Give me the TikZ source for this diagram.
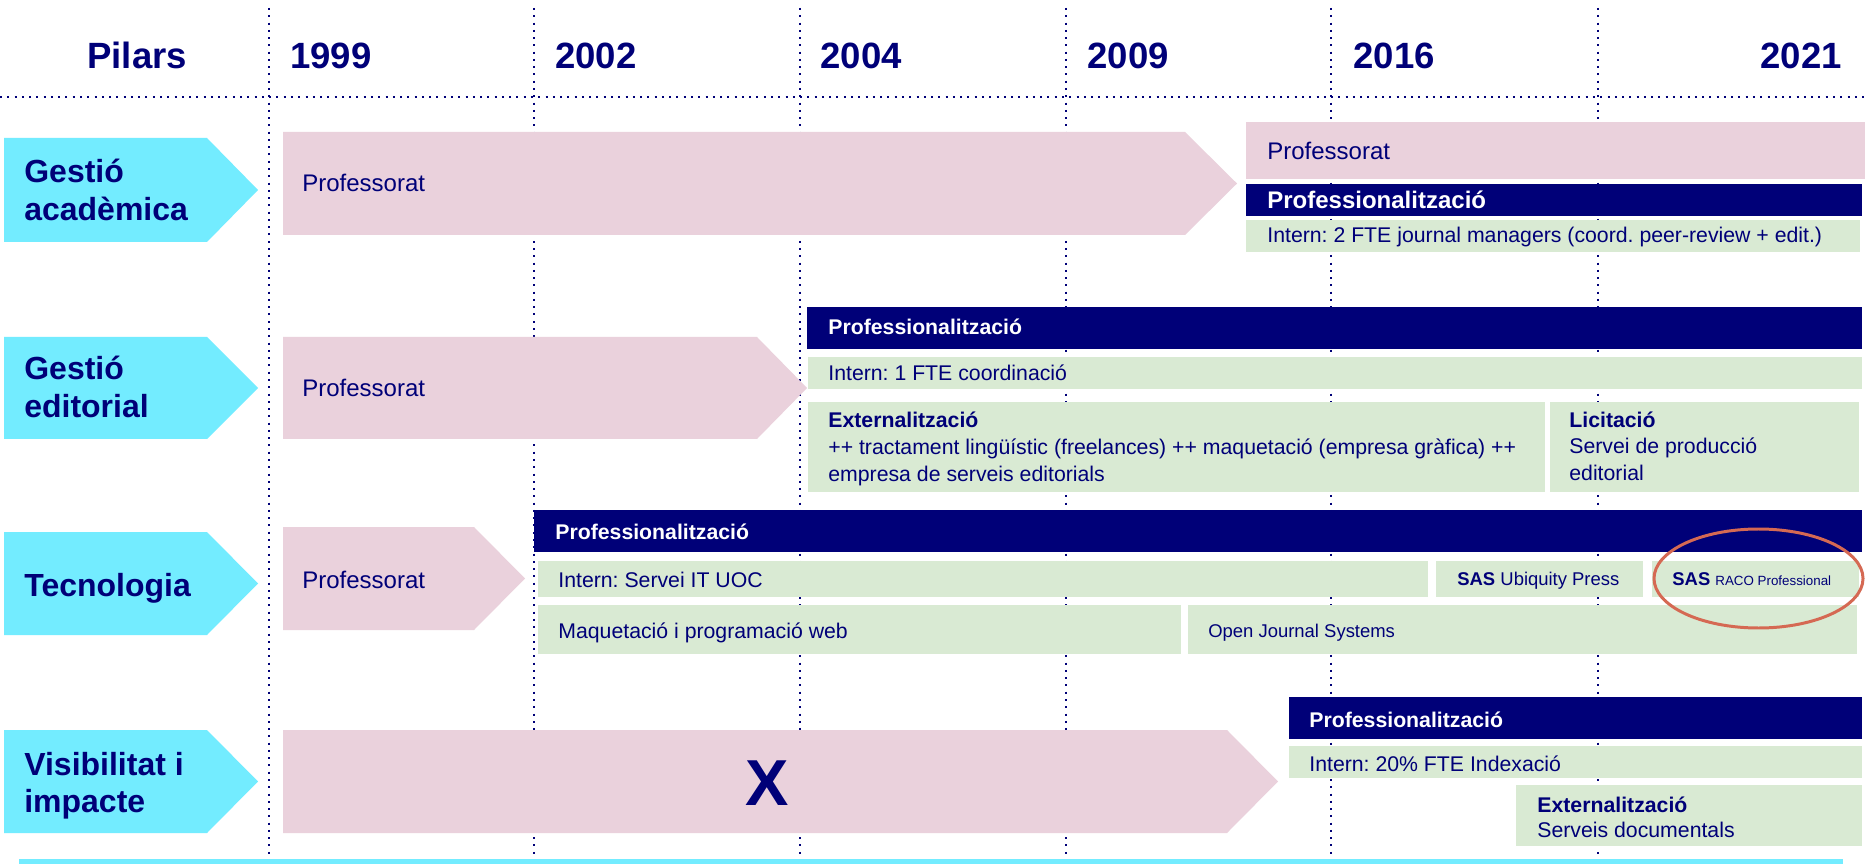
\documentclass[tikz,border=0pt]{standalone}
\usepackage{fontspec}
\setmainfont{Liberation Sans}
\frenchspacing
\definecolor{navyc}{RGB}{0,0,120}
\definecolor{cyanc}{RGB}{115,236,255}
\definecolor{pinkc}{RGB}{234,209,220}
\definecolor{greenc}{RGB}{217,234,211}
\definecolor{redc}{RGB}{213,105,83}
\begin{document}
\begin{tikzpicture}[x=0.02cm,y=-0.02cm,
  txt/.style={inner sep=0pt, anchor=base west, text=navyc},
  hdr/.style={txt, font=\bfseries\fontsize{20.8}{25}\selectfont},
  pil/.style={txt, font=\bfseries\fontsize{18.2}{22}\selectfont},
  big/.style={txt, font=\fontsize{13.66}{16}\selectfont},
  bigw/.style={txt, text=white, font=\bfseries\fontsize{13.66}{16}\selectfont},
  med/.style={txt, font=\fontsize{12.1}{14}\selectfont},
  medb/.style={txt, font=\bfseries\fontsize{12.1}{14}\selectfont},
  medw/.style={medb, text=white},
  sml/.style={txt, font=\fontsize{10.5}{12}\selectfont},
  dotline/.style={navyc, line width=1.14pt, dash pattern=on 1.14pt off 3pt},
  gbox/.style={fill=greenc},
  nbox/.style={fill=navyc},
  pbox/.style={fill=pinkc},
  cbox/.style={fill=cyanc}]
\useasboundingbox (0,0) rectangle (1865,864);
\fill[white] (0,0) rectangle (1865,864);

% grid
\foreach \gx in {269,534,800,1066,1331,1598}
  \draw[dotline] (\gx,8) -- (\gx,864);
\draw[dotline] (0,97) -- (1865,97);

% headers
\node[hdr] (hpil) at (87,69) {Pilars};
\node[hdr] (y1999) at (290,69) {1999};
\node[hdr] (y2002) at (555,69) {2002};
\node[hdr] (y2004) at (820,69) {2004};
\node[hdr] (y2009) at (1087,69) {2009};
\node[hdr] (y2016) at (1353,69) {2016};
\node[hdr, anchor=base east] (y2021) at (1842,69) {2021};

% pillar arrows
\foreach \ya/\yb in {138/242,337/439,532/635,730/833}
  \path[cbox] (4,\ya) -- (207,\ya) -- (258,{(\ya+\yb)/2}) -- (207,\yb) -- (4,\yb) -- cycle;
\node[pil] (p1a) at (24,183) {Gestió};
\node[pil] (p1b) at (24,221) {acadèmica};
\node[pil] (p2a) at (24,380) {Gestió};
\node[pil] (p2b) at (24,418) {editorial};
\node[pil] (p3) at (24,596) {Tecnologia};
\node[pil] (p4a) at (24,775) {Visibilitat i};
\node[pil] (p4b) at (24,812) {impacte};

% pink arrows
\path[pbox] (283,132) -- (1185,132) -- (1237,183.5) -- (1185,235) -- (283,235) -- cycle;
\path[pbox] (283,337) -- (757,337) -- (807,388) -- (757,439) -- (283,439) -- cycle;
\path[pbox] (283,527) -- (474,527) -- (525,578.5) -- (474,630) -- (283,630) -- cycle;
\path[pbox] (283,730) -- (1227,730) -- (1278,781.5) -- (1227,833) -- (283,833) -- cycle;
\path[pbox] (1246,122) rectangle (1865,179);

% navy bars
\path[nbox] (1246,184) rectangle (1862,216);
\path[nbox] (807,307) rectangle (1862,349);
\path[nbox] (534,510) rectangle (1862,552);
\path[nbox] (1289,697) rectangle (1862,739);

% green boxes
\path[gbox] (1246,220) rectangle (1860,252);
\path[gbox] (808,357) rectangle (1862,389);
\path[gbox] (808,402) rectangle (1545,492);
\path[gbox] (1550,402) rectangle (1859,492);
\path[gbox] (538,561) rectangle (1428,597);
\path[gbox] (1436,561) rectangle (1643,597);
\path[gbox] (1652,561) rectangle (1859,597);
\path[gbox] (538,605) rectangle (1181,654);
\path[gbox] (1188,605) rectangle (1857,654);
\path[gbox] (1289,746) rectangle (1862,778);
\path[gbox] (1516,785) rectangle (1862,846);

% bottom bar
\path[cbox] (19,859) rectangle (1843,864);

% texts row 1
\node[big] (r1p) at (302,192) {Professorat};
\node[big] (r1p2) at (1267,160) {Professorat};
\node[bigw] (r1n) at (1267,209) {Professionalització};
\node[med] (r1g) at (1267,243) {Intern: 2 FTE journal managers (coord. peer-review + edit.)};

% row 2
\node[big] (r2p) at (302,397) {Professorat};
\node[medw] (r2n) at (828,335) {Professionalització};
\node[med] (r2g) at (828,381) {Intern: 1 FTE coordinació};
\node[medb] (r2e1) at (828,428) {Externalització};
\node[med] (r2e2) at (828,455) {++ tractament lingüístic (freelances) ++ maquetació (empresa gràfica) ++};
\node[med] (r2e3) at (828,481) {empresa de serveis editorials};
\node[medb] (r2l1) at (1569,428) {Licitació};
\node[med] (r2l2) at (1569,454) {Servei de producció};
\node[med] (r2l3) at (1569,480) {editorial};

% row 3
\node[big] (r3p) at (302,588) {Professorat};
\node[medw] (r3n) at (555,539) {Professionalització};
\node[med] (r3g) at (558,587) {Intern: Servei IT UOC};
\node[sml] (r3u) at (1457,585) {\bfseries SAS \mdseries Ubiquity Press};
\node[sml] (r3r) at (1672,585) {\bfseries SAS {\mdseries\fontsize{7.6}{9}\selectfont RACO Professional}};
\node[med] (r3m) at (558,638) {Maquetació i programació web};
\node[sml] (r3o) at (1208,637) {Open Journal Systems};

% row 4
\node[txt, anchor=center, font=\bfseries\fontsize{37}{40}\selectfont] (r4x) at (767,783) {X};
\node[medw] (r4n) at (1309,727) {Professionalització};
\node[med] (r4g) at (1309,771) {Intern: 20\% FTE Indexació};
\node[medb] (r4e1) at (1537,812) {Externalització};
\node[med] (r4e2) at (1537,837) {Serveis documentals};

% highlight
\draw[redc, line width=1.7pt] (1758.5,578.5) ellipse [x radius=104.5, y radius=49.5];
\end{tikzpicture}
\end{document}
